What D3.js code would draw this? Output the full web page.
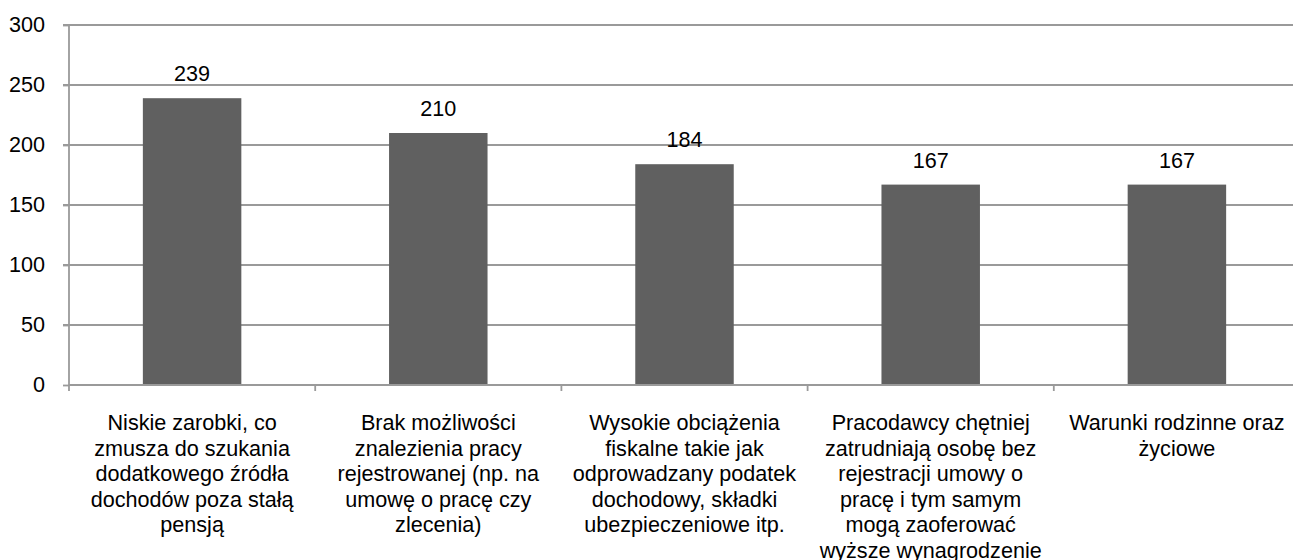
<!DOCTYPE html>
<html><head><meta charset="utf-8">
<script src="https://cdn.jsdelivr.net/npm/d3@7"></script>
<style>html,body{margin:0;padding:0;background:#fff;overflow:hidden}</style>
</head><body>
<svg id="c" width="1293" height="560"></svg>
<script>
const categories = [
  "Niskie zarobki, co\nzmusza do szukania\ndodatkowego źródła\ndochodów poza stałą\npensją",
  "Brak możliwości\nznalezienia pracy\nrejestrowanej (np. na\numowę o pracę czy\nzlecenia)",
  "Wysokie obciążenia\nfiskalne takie jak\nodprowadzany podatek\ndochodowy, składki\nubezpieczeniowe itp.",
  "Pracodawcy chętniej\nzatrudniają osobę bez\nrejestracji umowy o\npracę i tym samym\nmogą zaoferować\nwyższe wynagrodzenie",
  "Warunki rodzinne oraz\nżyciowe"
];
const values = [239, 210, 184, 167, 167];
const yTicks = [0, 50, 100, 150, 200, 250, 300];

(function () {
const svg = d3.select("#c");
const font = "'Liberation Sans', Arial, sans-serif";
const fs = 21.6;
const mLeft = 69, mRight = 1300, mTop = 25, mBottom = 385;

const x = d3.scaleBand().domain(categories.map((d, i) => i)).range([mLeft, mRight])
  .paddingInner(0.6).paddingOuter(0.3);
const y = d3.scaleLinear().domain([0, 300]).range([mBottom, mTop]);

// gridlines
svg.append("g").selectAll("line").data(yTicks.filter(t => t > 0)).join("line")
  .attr("x1", mLeft - 6).attr("x2", 1293)
  .attr("y1", d => y(d)).attr("y2", d => y(d))
  .attr("stroke", "#9a9a9a").attr("stroke-width", 1.8);

// y axis
const yAxis = d3.axisLeft(y).tickValues(yTicks).tickSize(6).tickPadding(18);
const gy = svg.append("g").attr("transform", `translate(${mLeft},0)`).call(yAxis);
gy.select(".domain").attr("stroke", "#9a9a9a").attr("stroke-width", 1.8).attr("d", `M0,${y(0)}V${y(300)}`);
gy.selectAll(".tick line").attr("stroke", "#9a9a9a").attr("stroke-width", 1.8);
gy.selectAll(".tick text").attr("font-family", font).attr("font-size", fs).attr("fill", "#000");

// bars
svg.append("g").selectAll("rect").data(values).join("rect")
  .attr("x", (d, i) => x(i)).attr("width", x.bandwidth())
  .attr("y", d => y(d)).attr("height", d => y(0) - y(d))
  .attr("fill", "#606060");

// value labels
svg.append("g").selectAll("text").data(values).join("text")
  .attr("x", (d, i) => x(i) + x.bandwidth() / 2)
  .attr("y", d => y(d) - 17)
  .attr("text-anchor", "middle")
  .attr("font-family", font).attr("font-size", fs).attr("fill", "#000")
  .text(d => d);

// x axis
const step = x.step();
svg.append("line").attr("x1", mLeft).attr("x2", 1293).attr("y1", y(0)).attr("y2", y(0))
  .attr("stroke", "#9a9a9a").attr("stroke-width", 1.8);
const bounds = d3.range(categories.length + 1).map(i => mLeft + i * step);
svg.append("g").selectAll("line").data(bounds).join("line")
  .attr("x1", d => d).attr("x2", d => d).attr("y1", y(0)).attr("y2", y(0) + 6)
  .attr("stroke", "#9a9a9a").attr("stroke-width", 1.8);

// category labels
const lh = 25.5;
const lbl = svg.append("g").selectAll("text").data(categories).join("text")
  .attr("text-anchor", "middle")
  .attr("font-family", font).attr("font-size", fs).attr("fill", "#000");
lbl.each(function (d, i) {
  const cx = x(i) + x.bandwidth() / 2;
  d3.select(this).selectAll("tspan").data(d.split("\n")).join("tspan")
    .attr("x", cx).attr("y", (l, j) => 430 + j * lh).text(l => l);
});
})();
</script>
</body></html>
